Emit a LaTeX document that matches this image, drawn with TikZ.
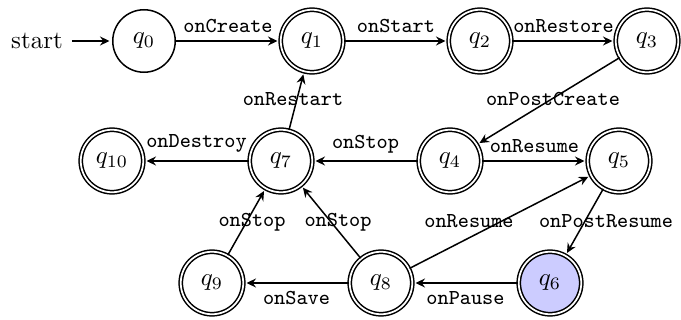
\documentclass[tikz,border=0pt]{standalone}
\usetikzlibrary{arrows.meta}
\begin{document}
\begin{tikzpicture}[x=0.4pt, y=-0.4pt, line width=0.6pt,
  >={Stealth[length=3.8pt,width=3.6pt,inset=1.3pt]},
  stnode/.style={circle, draw, minimum size=25pt, inner sep=0pt},
  accept/.style={stnode, double, double distance=0.7pt},
  active/.style={accept, fill=blue!20},
  trans/.style={->, shorten >=1pt},
  lbl/.style={font=\ttfamily\fontsize{8.5}{10}\selectfont, inner sep=3pt}]
  \useasboundingbox (0,0) rectangle (681,320);

  % states
  \node (start) at (37,41) {start};
  \node[stnode] (q0) at (144,41) {$q_0$};
  \node[accept] (q1) at (312,41) {$q_1$};
  \node[accept] (q2) at (480,41) {$q_2$};
  \node[accept] (q3) at (647,41) {$q_3$};
  \node[accept] (q10) at (112,161) {$q_{10}$};
  \node[accept] (q7) at (281,161) {$q_7$};
  \node[accept] (q4) at (450,161) {$q_4$};
  \node[accept] (q5) at (619,161) {$q_5$};
  \node[accept] (q9) at (212,283) {$q_9$};
  \node[accept] (q8) at (381,283) {$q_8$};
  \node[active] (q6) at (550,283) {$q_6$};

  % transitions
  \draw[trans] (start) -- (q0);
  \draw[trans] (q0) -- node[lbl, above] {onCreate} (q1);
  \draw[trans] (q1) -- node[lbl, above] {onStart} (q2);
  \draw[trans] (q2) -- node[lbl, above] {onRestore} (q3);
  \draw[trans] (q3) -- (q4);
  \draw[trans] (q4) -- node[lbl, above] {onResume} (q5);
  \draw[trans] (q4) -- node[lbl, above] {onStop} (q7);
  \draw[trans] (q7) -- node[lbl, above] {onDestroy} (q10);
  \draw[trans] (q7) -- (q1);
  \draw[trans] (q5) -- (q6);
  \draw[trans] (q6) -- node[lbl, below] {onPause} (q8);
  \draw[trans] (q8) -- (q5);
  \draw[trans] (q8) -- node[lbl, below] {onSave} (q9);
  \draw[trans] (q8) -- (q7);
  \draw[trans] (q9) -- (q7);

  % labels of the slanted transitions
  \node[lbl, anchor=base] (lPostCreate) at (553,105) {onPostCreate};
  \node[lbl, anchor=base] (lRestart) at (293,105) {onRestart};
  \node[lbl, anchor=base] (lStopA) at (252,226) {onStop};
  \node[lbl, anchor=base] (lStopB) at (338,226) {onStop};
  \node[lbl, anchor=base] (lResume) at (469,227) {onResume};
  \node[lbl, anchor=base] (lPostResume) at (606,227) {onPostResume};
\end{tikzpicture}
\end{document}
